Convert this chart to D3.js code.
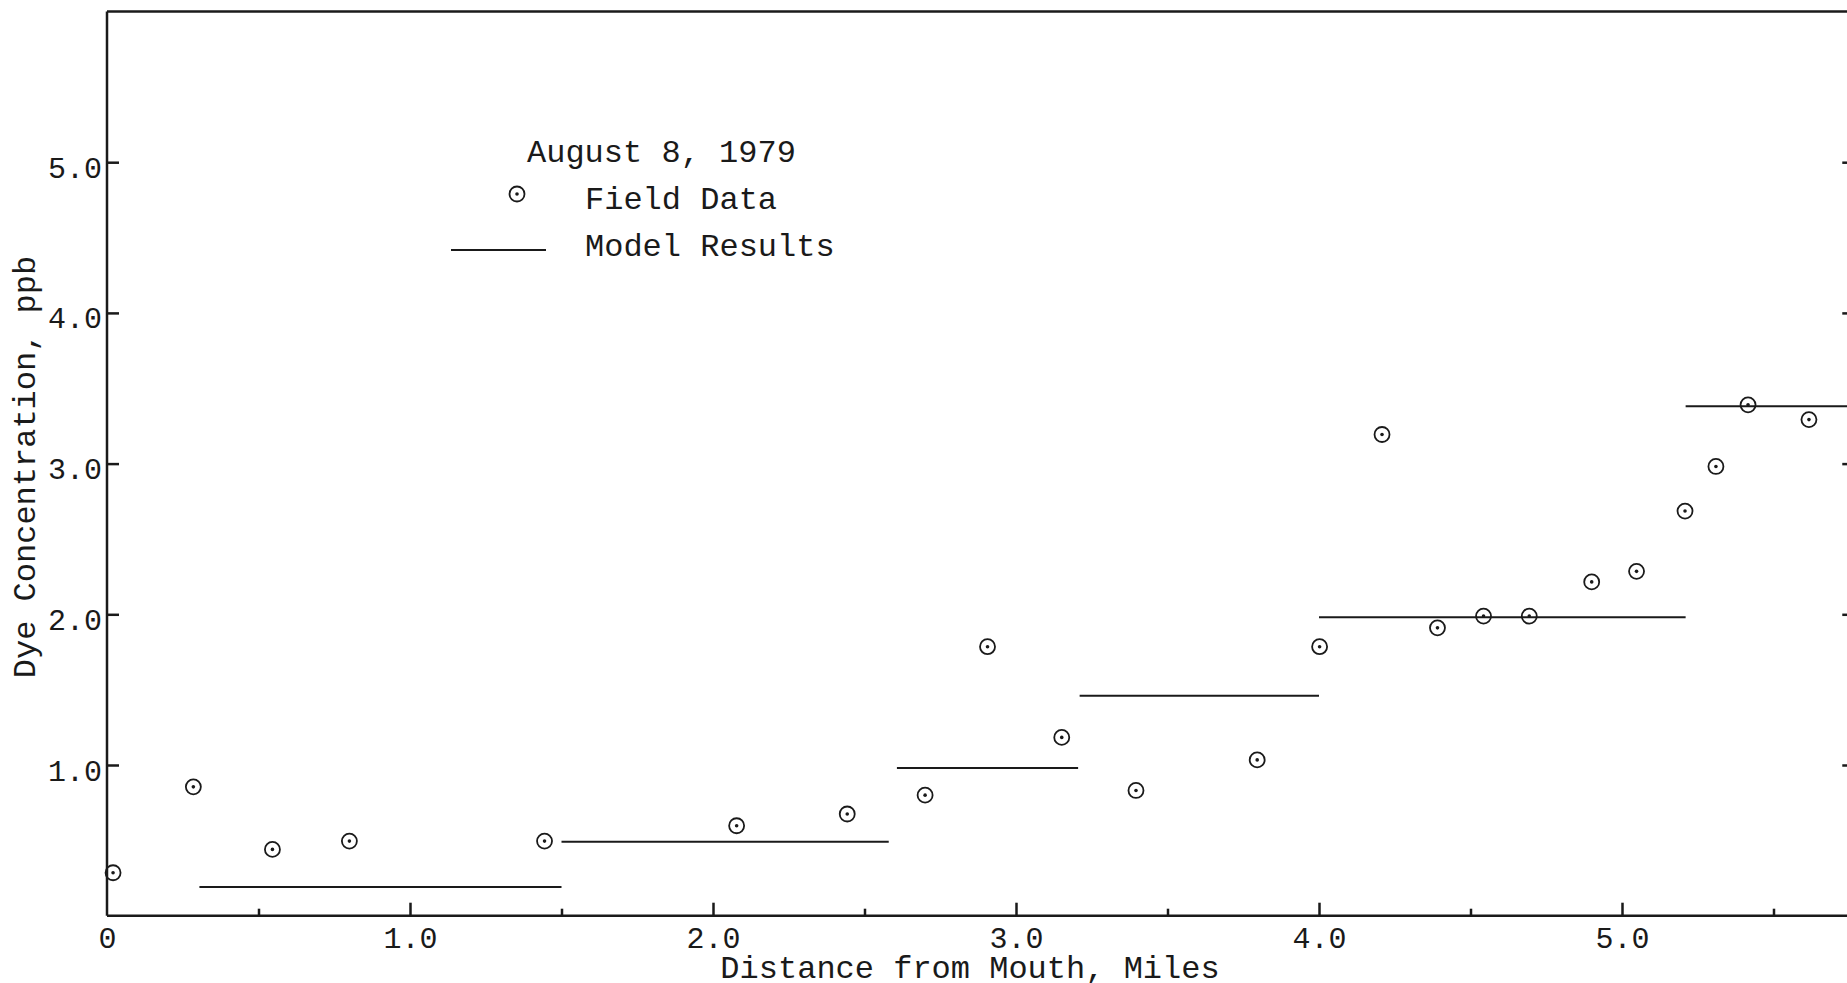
<!DOCTYPE html>
<html>
<head>
<meta charset="utf-8">
<title>Dye Concentration, August 8, 1979</title>
<style>
body {
  margin: 0;
  background: #fff;
}
svg text {
  font-family: "Liberation Mono", "DejaVu Sans Mono", monospace;
  fill: #1a1a1a;
}
.axis line {
  stroke: #1a1a1a;
  stroke-width: 2.5;
}
.axis text {
  font-size: 30px;
}
.frame {
  stroke: #1a1a1a;
  stroke-width: 2.5;
}
.model {
  stroke: #1a1a1a;
  stroke-width: 2;
}
</style>
</head>
<body>
<script src="https://cdn.jsdelivr.net/npm/d3@7/dist/d3.min.js"></script>
<script>
// field data (miles from mouth, ppb)
var fieldMiles = [0.02, 0.285, 0.546, 0.80, 1.444, 2.078, 2.443, 2.70, 2.906, 3.151, 3.396, 3.796,
                  4.002, 4.208, 4.391, 4.543, 4.694, 4.90, 5.048, 5.208, 5.31, 5.416, 5.617];
var fieldPpb   = [0.285, 0.855, 0.44, 0.495, 0.495, 0.597, 0.675, 0.80, 1.785, 1.183, 0.831, 1.034,
                  1.785, 3.193, 1.91, 1.988, 1.988, 2.215, 2.285, 2.685, 2.981, 3.39, 3.292];

// model results, one flat step per reach
var modelStart = [0.305, 1.50, 2.607, 3.21, 4.0, 5.21];
var modelEnd   = [1.50, 2.58, 3.205, 4.0, 5.21, 5.76];
var modelPpb   = [0.19, 0.49, 0.98, 1.46, 1.98, 3.38];

var xTicks = [0, 0.5, 1, 1.5, 2, 2.5, 3, 3.5, 4, 4.5, 5, 5.5];
var yTicks = [1, 2, 3, 4, 5];

var width = 1847, height = 983;

var x = d3.scaleLinear()
    .domain([0, 5.76])
    .range([107, 107 + 5.76 * 303]);

var y = d3.scaleLinear()
    .domain([0, 6])
    .range([915.7, 11.5]);

var svg = d3.select("body").append("svg")
    .attr("width", width)
    .attr("height", height);

// frame
var frame = [
  [0, 0, 0, 6], [0, 0, 5.76, 0], [0, 6, 5.76, 6], [5.76, 0, 5.76, 6]
];
svg.selectAll(".frame")
    .data(frame)
  .enter().append("line")
    .attr("class", "frame")
    .attr("x1", function(d) { return x(d[0]); })
    .attr("y1", function(d) { return y(d[1]); })
    .attr("x2", function(d) { return x(d[2]); })
    .attr("y2", function(d) { return y(d[3]); });

var xAxis = d3.axisBottom(x)
    .tickValues(xTicks)
    .tickSize(-13)
    .tickPadding(11)
    .tickFormat(function(d) { return d === 0 ? "0" : (d % 1 === 0 ? d.toFixed(1) : ""); });

var gx = svg.append("g")
    .attr("class", "x axis")
    .attr("transform", "translate(0," + y(0) + ")")
    .call(xAxis);
gx.select(".domain").remove();
gx.selectAll(".tick line")
    .attr("y2", function(d) { return d % 1 === 0 ? -13 : -7; })
    .style("display", function(d) { return d === 0 ? "none" : null; });

var yAxis = d3.axisLeft(y)
    .tickValues(yTicks)
    .tickSize(-12)
    .tickPadding(5)
    .tickFormat(d3.format(".1f"));

var gy = svg.append("g")
    .attr("class", "y axis")
    .attr("transform", "translate(" + x(0) + ",0)")
    .call(yAxis);
gy.select(".domain").remove();
gy.selectAll(".tick text").attr("dy", "0.5em");

// inward ticks on the right edge
var gr = svg.append("g")
    .attr("class", "y axis")
    .attr("transform", "translate(" + x(5.76) + ",0)")
    .call(d3.axisLeft(y).tickValues(yTicks).tickSize(10).tickFormat(""));
gr.select(".domain").remove();

// model steps
svg.selectAll(".model")
    .data(modelPpb)
  .enter().append("line")
    .attr("class", "model")
    .attr("x1", function(d, i) { return x(modelStart[i]); })
    .attr("x2", function(d, i) { return x(modelEnd[i]); })
    .attr("y1", function(d) { return y(d); })
    .attr("y2", function(d) { return y(d); });

// field points: circle with centre dot
var pts = svg.selectAll(".dot")
    .data(fieldPpb)
  .enter().append("g")
    .attr("class", "dot")
    .attr("transform", function(d, i) { return "translate(" + x(fieldMiles[i]) + "," + y(d) + ")"; });
pts.append("circle")
    .attr("r", 7.5)
    .style("fill", "none")
    .style("stroke", "#1a1a1a")
    .style("stroke-width", 1.8);
pts.append("circle")
    .attr("r", 1.8)
    .style("fill", "#1a1a1a");

// legend
var legend = svg.append("g").style("font-size", "32px");
legend.append("text")
    .attr("x", 527)
    .attr("y", 162)
    .text("August 8, 1979");
legend.append("circle")
    .attr("cx", 517)
    .attr("cy", 194)
    .attr("r", 7.5)
    .style("fill", "none")
    .style("stroke", "#1a1a1a")
    .style("stroke-width", 1.8);
legend.append("circle")
    .attr("cx", 517)
    .attr("cy", 194)
    .attr("r", 1.8)
    .style("fill", "#1a1a1a");
legend.append("text")
    .attr("x", 585)
    .attr("y", 209)
    .text("Field Data");
legend.append("line")
    .attr("class", "model")
    .attr("x1", 451)
    .attr("x2", 546)
    .attr("y1", 250)
    .attr("y2", 250);
legend.append("text")
    .attr("x", 585)
    .attr("y", 256)
    .text("Model Results");

// axis titles
svg.append("text")
    .attr("x", 970)
    .attr("y", 978)
    .style("text-anchor", "middle")
    .style("font-size", "32px")
    .text("Distance from Mouth, Miles");

svg.append("text")
    .attr("transform", "translate(35,467) rotate(-90)")
    .style("text-anchor", "middle")
    .style("font-size", "32px")
    .text("Dye Concentration, ppb");
</script>
</body>
</html>
